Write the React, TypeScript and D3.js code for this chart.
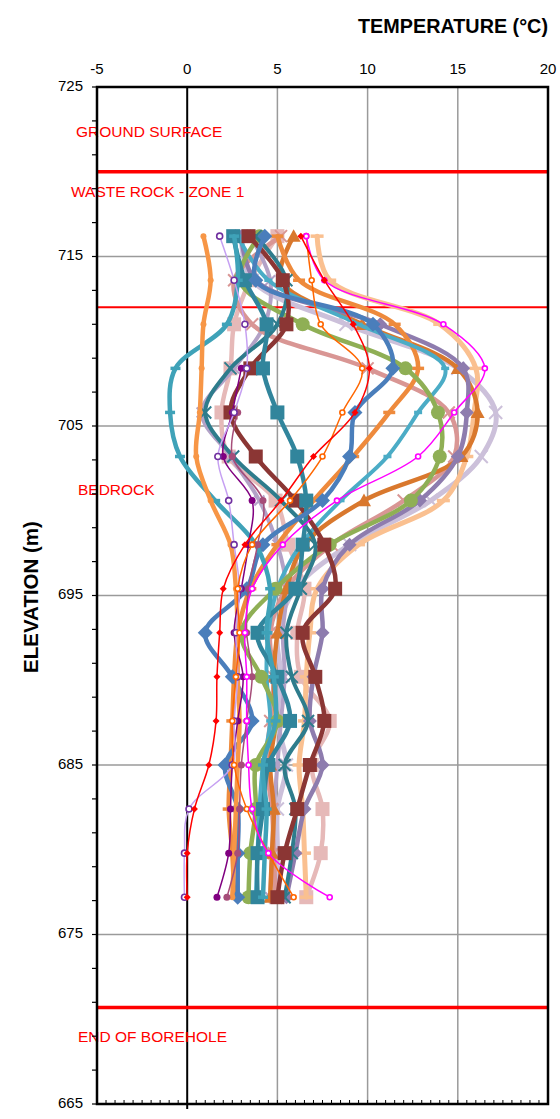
import React from "react";
import * as d3 from "d3";

const ELEV = [716.2, 713.6, 711.0, 708.4, 705.8, 703.2, 700.6, 698.0, 695.4, 692.8, 690.2, 687.6, 685.0, 682.4, 679.8, 677.2];
const X_TICKS = [-5, 0, 5, 10, 15, 20];
const Y_TICKS = [725, 715, 705, 695, 685, 675, 665];

const pinkSquare = [5.0, 3.5, 2.6, 2.4, 1.9, 2.3, 4.9, 5.6, 6.5, 6.1, 6.3, 7.9, 6.9, 7.5, 7.4, 6.6];
const lavenderX = [3.0, 3.6, 8.8, 15.0, 17.1, 16.3, 13.5, 9.0, 6.0, 5.0, 5.2, 5.0, 5.5, 5.0, 5.0, 4.9];
const lilacGray = [3.5, 4.6, 4.3, 2.6, 0.8, 2.4, 4.0, 5.0, 5.5, 5.3, 5.4, 5.2, 5.0, 4.8, 4.7, 4.6];
const roseX = [5.2, 2.6, 3.6, 10.0, 14.5, 14.8, 12.0, 8.0, 5.5, 4.6, 4.8, 4.6, 4.4, 4.7, 4.8, 4.9];
const peachDash = [7.2, 7.9, 14.0, 16.0, 15.9, 15.5, 14.2, 9.5, 7.2, 6.8, 6.6, 6.5, 6.2, 6.4, 6.5, 6.6];
const orangeTriangle = [5.9, 5.2, 9.7, 15.0, 16.1, 15.2, 9.8, 6.5, 5.5, 5.0, 4.8, 4.9, 4.6, 4.8, 4.7, 4.6];
const purpleDiamond = [3.0, 3.8, 10.7, 15.3, 15.5, 15.0, 12.9, 9.0, 7.5, 7.5, 7.0, 6.8, 7.5, 6.5, 6.0, 5.5];
const orangeDash = [5.0, 6.2, 11.5, 12.8, 11.2, 9.2, 7.0, 5.0, 3.5, 2.8, 2.6, 2.5, 2.4, 2.3, 2.5, 2.6];
const cyanRight = [2.8, 4.5, 9.5, 14.3, 12.8, 11.1, 8.5, 6.3, 5.0, 4.5, 4.4, 4.6, 4.2, 4.0, 3.9, 3.8];
const greenCircle = [4.0, 2.9, 6.4, 12.1, 13.9, 14.0, 12.4, 7.9, 4.9, 3.0, 4.1, 5.0, 3.8, 3.8, 3.5, 3.4];
const darkTealX = [3.8, 5.5, 5.0, 2.4, 1.0, 2.55, 5.2, 7.1, 6.3, 5.5, 5.8, 6.7, 5.4, 6.0, 5.8, 5.4];
const darkRedSquare = [3.4, 5.3, 5.5, 3.5, 2.4, 3.8, 6.0, 7.6, 8.2, 6.4, 7.1, 7.6, 6.8, 6.1, 5.4, 5.0];
const tealSquare = [2.55, 3.2, 4.4, 4.2, 5.0, 6.1, 6.6, 6.4, 6.0, 3.9, 5.0, 5.7, 4.5, 4.2, 3.9, 3.9];
const blueDiamond = [4.3, 3.8, 10.3, 11.4, 9.3, 9.0, 7.5, 4.2, 3.3, 1.0, 2.5, 3.6, 2.1, 2.8, 2.8, 2.8];
const cyanLeft = [2.6, 2.8, 2.2, -0.65, -0.95, -0.4, 1.55, 3.8, 4.6, 4.4, 4.8, 4.9, 4.2, 4.4, 4.3, 4.2];
const lightOrangeCircle = [0.9, 1.3, 0.9, 0.8, 0.7, 0.5, 1.3, 2.4, 2.7, 2.8, 2.8, 2.9, 2.8, 2.7, 2.6, 2.5];
const mauveCircle = [null, null, null, null, 2.8, 2.5, 4.2, 3.9, 3.4, 3.3, 3.6, 3.3, 3.0, 2.9, 2.8, 2.2];
const darkPurpleCircle = [null, null, null, 3.0, 2.5, 2.0, 3.6, 3.4, 3.0, 2.6, 3.1, 2.8, 2.5, 2.4, 2.3, 1.65];
const lilacOpen = [1.8, 2.6, 3.2, 3.3, 2.6, 1.7, 2.3, 2.6, 2.9, 2.7, 2.8, 2.6, 2.5, 0.1, -0.15, -0.15];
const orangeOpen = [6.6, 6.9, 7.4, 9.7, 8.6, 7.5, 5.7, 3.6, 2.8, 2.9, 2.7, 2.5, 2.6, 3.3, 4.5, 5.9];
const magentaOpen = [6.6, 7.6, 14.2, 16.5, 14.8, 12.8, 8.3, 5.3, 3.6, 3.2, 3.3, 3.3, 3.4, 3.6, 4.5, 7.9];
const redDiamond = [6.3, 7.6, 9.2, 10.1, 9.3, 7.0, 5.2, 3.2, 2.0, 1.8, 1.65, 1.6, 1.2, 0.4, 0.0, 0.0];

const LAYERS = [
  { label: "GROUND SURFACE", elev: 722.3, dx: 76 },
  { label: "WASTE ROCK - ZONE 1", elev: 718.75, dx: 71 },
  { label: "BEDROCK", elev: 701.15, dx: 78 },
  { label: "END OF BOREHOLE", elev: 668.9, dx: 78 },
];
const BOUNDARIES = [
  { elev: 720.0, w: 3.5 },
  { elev: 712.0, w: 2 },
  { elev: 670.7, w: 3.5 },
];

type Marker = "square" | "diamond" | "circle" | "triangle" | "x" | "dash" | "small" | "open" | "sdiamond" | "none";
interface Series { vals: (number | null)[]; color: string; width: number; marker: Marker; mcolor?: string; size: number; }

const SERIES: Series[] = [
  { vals: pinkSquare, color: "#E6B9B8", width: 4.5, marker: "square", size: 14 },
  { vals: lavenderX, color: "#CCC0DA", width: 5, marker: "x", size: 13 },
  { vals: lilacGray, color: "#B3A2C7", width: 4, marker: "x", size: 10 },
  { vals: roseX, color: "#D99694", width: 4.5, marker: "x", size: 12 },
  { vals: peachDash, color: "#FAC090", width: 5, marker: "dash", size: 13 },
  { vals: orangeTriangle, color: "#D9782D", width: 4.5, marker: "triangle", size: 14 },
  { vals: purpleDiamond, color: "#8E7CAE", width: 4.5, marker: "diamond", size: 14 },
  { vals: orangeDash, color: "#EE8A3C", width: 4.5, marker: "dash", size: 12 },
  { vals: cyanRight, color: "#4BACC6", width: 4, marker: "dash", size: 8 },
  { vals: greenCircle, color: "#8FAF55", width: 4.5, marker: "circle", size: 14 },
  { vals: darkTealX, color: "#2E7C8C", width: 4, marker: "x", size: 12 },
  { vals: darkRedSquare, color: "#8B3634", width: 4.5, marker: "square", size: 14 },
  { vals: tealSquare, color: "#31859C", width: 4.5, marker: "square", size: 14 },
  { vals: blueDiamond, color: "#4A7EBB", width: 4.5, marker: "diamond", size: 15 },
  { vals: cyanLeft, color: "#3FA2B8", width: 4.5, marker: "dash", size: 10 },
  { vals: lightOrangeCircle, color: "#F79646", width: 4.5, marker: "small", size: 6 },
  { vals: mauveCircle, color: "#A64D79", width: 1.5, marker: "small", size: 7 },
  { vals: darkPurpleCircle, color: "#800080", width: 1.5, marker: "small", size: 7 },
  { vals: lilacOpen, color: "#C6A0F2", width: 1.5, marker: "open", mcolor: "#7030A0", size: 8 },
  { vals: orangeOpen, color: "#FF6600", width: 1.5, marker: "open", size: 7 },
  { vals: magentaOpen, color: "#FF00FF", width: 1.5, marker: "open", size: 7 },
  { vals: redDiamond, color: "#FF0000", width: 1.5, marker: "sdiamond", size: 7 },
];

const X0 = 97, X1 = 548, Y0 = 87, Y1 = 1104;
const FONT = "Liberation Sans, Arial, sans-serif";

function MarkerShape({ m, cx, cy, color, size }: { m: Marker; cx: number; cy: number; color: string; size: number }) {
  const h = size / 2;
  switch (m) {
    case "square":
      return <rect x={cx - h} y={cy - h} width={size} height={size} fill={color} />;
    case "diamond":
    case "sdiamond":
      return <path d={`M${cx},${cy - h}L${cx + h},${cy}L${cx},${cy + h}L${cx - h},${cy}Z`} fill={color} />;
    case "circle":
    case "small":
      return <circle cx={cx} cy={cy} r={h} fill={color} />;
    case "open":
      return <circle cx={cx} cy={cy} r={h - 1} fill="#fff" stroke={color} strokeWidth={1.6} />;
    case "triangle":
      return <path d={`M${cx},${cy - h}L${cx + h},${cy + h * 0.8}L${cx - h},${cy + h * 0.8}Z`} fill={color} />;
    case "x":
      return <path d={`M${cx - h},${cy - h}L${cx + h},${cy + h}M${cx + h},${cy - h}L${cx - h},${cy + h}`} stroke={color} strokeWidth={2} />;
    case "dash":
      return <rect x={cx - h} y={cy - 1.75} width={size} height={3.5} fill={color} />;
    default:
      return null;
  }
}

export default function App() {
  const x = d3.scaleLinear().domain([-5, 20]).range([X0, X1]);
  const y = d3.scaleLinear().domain([725, 665]).range([Y0, Y1]);
  const line = d3
    .line<[number, number]>()
    .x((d) => x(d[0]))
    .y((d) => y(d[1]))
    .curve(d3.curveCatmullRom.alpha(0.5));

  const minorX = d3.range(-5, 20.001, 0.5);
  const minorY = d3.range(665, 725.001, 2);
  const gridX = [5, 10, 15];
  const gridY = [715, 705, 695, 685, 675];

  return (
    <div style={{ position: "absolute", left: 0, top: 0 }}>
      <svg width={560} height={1119} style={{ display: "block", background: "#fff" }} fontFamily={FONT}>
        {gridX.map((t) => (
          <line key={"gx" + t} x1={x(t)} x2={x(t)} y1={Y0} y2={Y1} stroke="#9a9a9a" strokeWidth={1.5} />
        ))}
        {gridY.map((t) => (
          <line key={"gy" + t} x1={X0} x2={X1} y1={y(t)} y2={y(t)} stroke="#9a9a9a" strokeWidth={1.5} />
        ))}
        <line x1={x(0)} x2={x(0)} y1={Y0} y2={Y1 + 5} stroke="#000" strokeWidth={2} />
        {BOUNDARIES.map((b, i) => (
          <line key={"b" + i} x1={X0} x2={X1} y1={y(b.elev)} y2={y(b.elev)} stroke="#FF0000" strokeWidth={b.w} />
        ))}
        {SERIES.map((s, i) => {
          const pts: [number, number][] = [];
          s.vals.forEach((v, j) => {
            if (v !== null) pts.push([v, ELEV[j]]);
          });
          return (
            <g key={"s" + i}>
              <path d={line(pts) || ""} fill="none" stroke={s.color} strokeWidth={s.width} strokeLinejoin="round" strokeLinecap="round" />
              {pts.map((p, j) => (
                <MarkerShape key={j} m={s.marker} cx={x(p[0])} cy={y(p[1])} color={s.mcolor || s.color} size={s.size} />
              ))}
            </g>
          );
        })}
        {LAYERS.map((l, i) => (
          <text key={"l" + i} x={l.dx} y={y(l.elev)} fill="#FF0000" fontSize={15.5} dominantBaseline="middle">
            {l.label}
          </text>
        ))}
        <rect x={X0} y={Y0} width={X1 - X0} height={Y1 - Y0} fill="none" stroke="#000" strokeWidth={2.5} />
        {minorX.map((t, i) => (
          <line key={"mx" + i} x1={x(t)} x2={x(t)} y1={Y1} y2={Y1 - 4} stroke="#000" strokeWidth={1} />
        ))}
        {minorY.map((t, i) => (
          <line key={"my" + i} x1={X0} x2={X0 - 5} y1={y(t)} y2={y(t)} stroke="#000" strokeWidth={1.2} />
        ))}
        {X_TICKS.map((t) => (
          <text key={"xt" + t} x={x(t)} y={74} fontSize={15} textAnchor="middle" fill="#000">
            {t}
          </text>
        ))}
        {Y_TICKS.map((t) => (
          <text key={"yt" + t} x={83} y={y(t)} fontSize={15} textAnchor="end" dominantBaseline="middle" fill="#000">
            {t}
          </text>
        ))}
        <text x={548} y={33} fontSize={19.8} fontWeight="bold" textAnchor="end" fill="#000">
          TEMPERATURE (°C)
        </text>
        <text
          transform={`translate(38,597) rotate(-90)`}
          fontSize={20.5}
          fontWeight="bold"
          textAnchor="middle"
          fill="#000"
        >
          ELEVATION (m)
        </text>
      </svg>
    </div>
  );
}
